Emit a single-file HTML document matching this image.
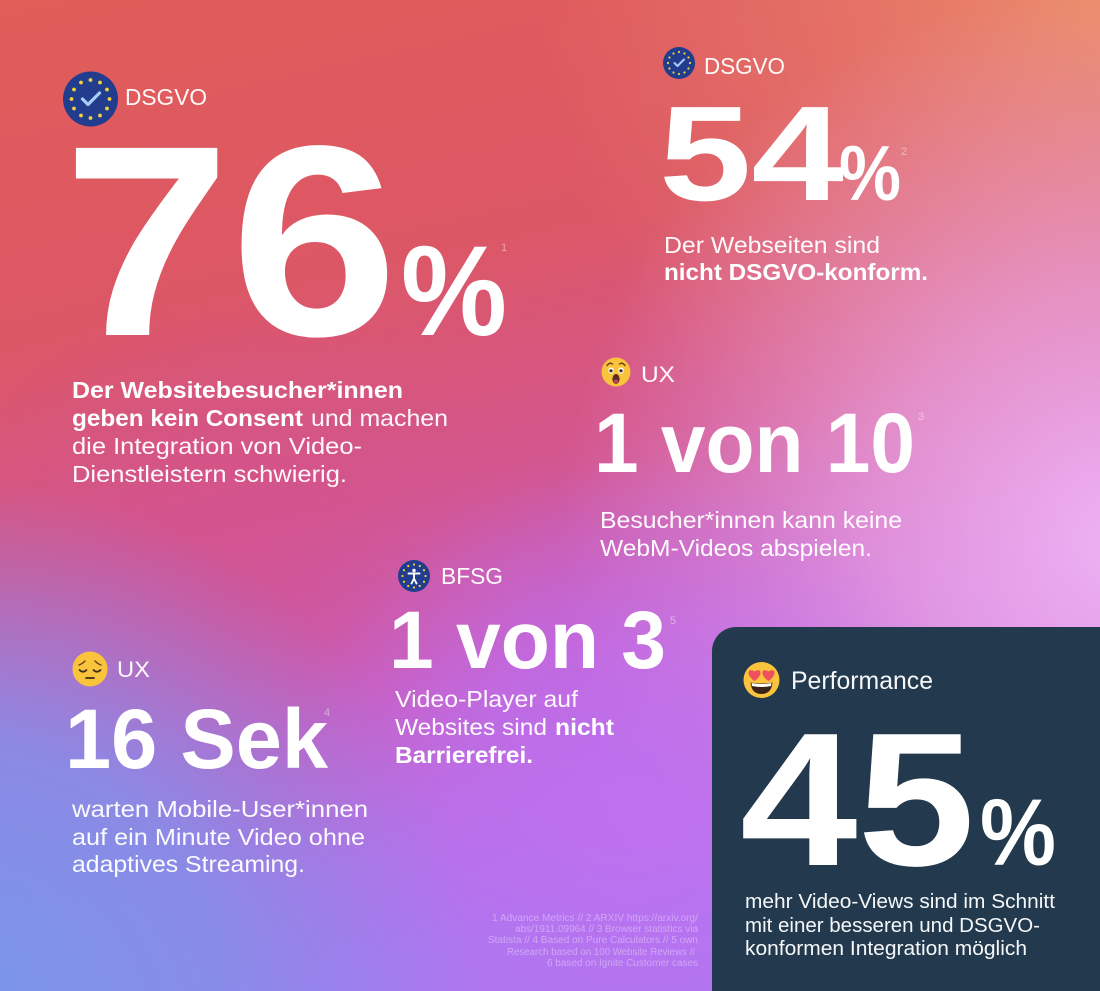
<!DOCTYPE html>
<html><head><meta charset="utf-8">
<style>
html,body{margin:0;padding:0;width:1100px;height:991px;overflow:hidden;background:#d45a8a}
svg{display:block}
text{font-family:"Liberation Sans",Arial,sans-serif;fill:#fff}
.b{font-weight:700}
.l{fill:#fff;fill-opacity:0.96}
.sup{font-size:11px;fill:#fff;fill-opacity:0.45}
.fn{font-size:10px;fill:#fff;fill-opacity:0.36}
</style></head><body>
<svg width="1100" height="991" viewBox="0 0 1100 991" xmlns="http://www.w3.org/2000/svg">
<defs>
 <linearGradient id="base" x1="0" y1="0" x2="0.25" y2="1">
  <stop offset="0" stop-color="#e15d58"/>
  <stop offset="0.33" stop-color="#dc5766"/>
  <stop offset="0.55" stop-color="#d3568e"/>
  <stop offset="0.75" stop-color="#c264d4"/>
  <stop offset="1" stop-color="#a878f0"/>
 </linearGradient>
 <radialGradient id="gOr" cx="1100" cy="0" r="560" gradientUnits="userSpaceOnUse">
  <stop offset="0" stop-color="#ec8e68" stop-opacity="1"/>
  <stop offset="0.5" stop-color="#e8806a" stop-opacity="0.55"/>
  <stop offset="1" stop-color="#e8806a" stop-opacity="0"/>
 </radialGradient>
 <radialGradient id="gLav" cx="1120" cy="540" r="560" gradientUnits="userSpaceOnUse">
  <stop offset="0" stop-color="#eeb2f4" stop-opacity="1"/>
  <stop offset="0.45" stop-color="#e9a2e2" stop-opacity="0.7"/>
  <stop offset="1" stop-color="#e49ad0" stop-opacity="0"/>
 </radialGradient>
 <radialGradient id="gBlue" cx="-40" cy="1000" r="520" gradientUnits="userSpaceOnUse">
  <stop offset="0" stop-color="#7896e8" stop-opacity="1"/>
  <stop offset="0.5" stop-color="#8290e8" stop-opacity="0.85"/>
  <stop offset="1" stop-color="#9088e8" stop-opacity="0"/>
 </radialGradient>
 <radialGradient id="gPur" cx="640" cy="820" r="360" gradientUnits="userSpaceOnUse">
  <stop offset="0" stop-color="#c070f0" stop-opacity="0.9"/>
  <stop offset="1" stop-color="#c070f0" stop-opacity="0"/>
 </radialGradient>
 <radialGradient id="gMag" cx="230" cy="590" r="300" gradientUnits="userSpaceOnUse">
  <stop offset="0" stop-color="#d25290" stop-opacity="0.7"/>
  <stop offset="1" stop-color="#d25290" stop-opacity="0"/>
 </radialGradient>
</defs>

<rect width="1100" height="991" fill="url(#base)"/>
<rect width="1100" height="991" fill="url(#gMag)"/>
<rect width="1100" height="991" fill="url(#gOr)"/>
<rect width="1100" height="991" fill="url(#gLav)"/>
<rect width="1100" height="991" fill="url(#gPur)"/>
<rect width="1100" height="991" fill="url(#gBlue)"/>

<!-- EU badge top-left -->
<g transform="translate(90.5,99)">
 <circle r="27.5" fill="#223d8e"/>
 <g fill="#f2d33c">
  <circle cx="0" cy="-19" r="1.9"/><circle cx="9.5" cy="-16.5" r="1.9"/><circle cx="16.5" cy="-9.5" r="1.9"/>
  <circle cx="19" cy="0" r="1.9"/><circle cx="16.5" cy="9.5" r="1.9"/><circle cx="9.5" cy="16.5" r="1.9"/>
  <circle cx="0" cy="19" r="1.9"/><circle cx="-9.5" cy="16.5" r="1.9"/><circle cx="-16.5" cy="9.5" r="1.9"/>
  <circle cx="-19" cy="0" r="1.9"/><circle cx="-16.5" cy="-9.5" r="1.9"/><circle cx="-9.5" cy="-16.5" r="1.9"/>
 </g>
 <path d="M-8,0 L-2.5,5.5 L9,-6" stroke="#a9ccf7" stroke-width="3.2" fill="none" stroke-linecap="round" stroke-linejoin="round"/>
</g>
<text x="125" y="105" font-size="23" textLength="82" lengthAdjust="spacingAndGlyphs" class="l">DSGVO</text>

<text class="b" x="63" y="335" font-size="272" textLength="335" lengthAdjust="spacingAndGlyphs">76</text>
<text class="b" x="401" y="335" font-size="128" textLength="106" lengthAdjust="spacingAndGlyphs">%</text>
<text class="sup" x="501" y="251">1</text>

<text class="b" x="72" y="398" font-size="23" textLength="331" lengthAdjust="spacingAndGlyphs">Der Websitebesucher*innen</text>
<text class="b" x="72" y="426" font-size="23" textLength="231" lengthAdjust="spacingAndGlyphs">geben kein Consent</text>
<text class="l" x="311" y="426" font-size="23" textLength="137" lengthAdjust="spacingAndGlyphs">und machen</text>
<text class="l" x="72" y="454" font-size="23" textLength="290" lengthAdjust="spacingAndGlyphs">die Integration von Video-</text>
<text class="l" x="72" y="482" font-size="23" textLength="275" lengthAdjust="spacingAndGlyphs">Dienstleistern schwierig.</text>

<!-- EU badge top-right -->
<g transform="translate(679,63)">
 <circle r="16" fill="#223d8e"/>
 <g fill="#f2d33c">
  <circle cx="0" cy="-11" r="1.1"/><circle cx="5.5" cy="-9.5" r="1.1"/><circle cx="9.5" cy="-5.5" r="1.1"/>
  <circle cx="11" cy="0" r="1.1"/><circle cx="9.5" cy="5.5" r="1.1"/><circle cx="5.5" cy="9.5" r="1.1"/>
  <circle cx="0" cy="11" r="1.1"/><circle cx="-5.5" cy="9.5" r="1.1"/><circle cx="-9.5" cy="5.5" r="1.1"/>
  <circle cx="-11" cy="0" r="1.1"/><circle cx="-9.5" cy="-5.5" r="1.1"/><circle cx="-5.5" cy="-9.5" r="1.1"/>
 </g>
 <path d="M-4.5,0 L-1.5,3 L5,-3.5" stroke="#a9ccf7" stroke-width="2" fill="none" stroke-linecap="round" stroke-linejoin="round"/>
</g>
<text x="704" y="74" font-size="23" textLength="81" lengthAdjust="spacingAndGlyphs" class="l">DSGVO</text>

<text class="b" x="659" y="200" font-size="135" textLength="185" lengthAdjust="spacingAndGlyphs">54</text>
<text class="b" x="839" y="200" font-size="78" textLength="62" lengthAdjust="spacingAndGlyphs">%</text>
<text class="sup" x="901" y="155">2</text>

<text class="l" x="664" y="253" font-size="23" textLength="216" lengthAdjust="spacingAndGlyphs">Der Webseiten sind</text>
<text class="b" x="664" y="280" font-size="23" textLength="264" lengthAdjust="spacingAndGlyphs">nicht DSGVO-konform.</text>

<!-- astonished emoji -->
<g transform="translate(616,372)">
 <circle r="14.5" fill="#f9c43c"/>
 <path d="M-9,-6.5 q2.5,-3.5 5.5,-1.5" stroke="#6b4316" stroke-width="1.4" fill="none" stroke-linecap="round"/>
 <path d="M3.5,-8 q3,-2 5.5,1.5" stroke="#6b4316" stroke-width="1.4" fill="none" stroke-linecap="round"/>
 <ellipse cx="-5" cy="-1.5" rx="2.6" ry="3.1" fill="#fff"/><circle cx="-5" cy="-1.2" r="1.6" fill="#3a2a1a"/>
 <ellipse cx="5" cy="-1.5" rx="2.6" ry="3.1" fill="#fff"/><circle cx="5" cy="-1.2" r="1.6" fill="#3a2a1a"/>
 <ellipse cx="0" cy="7" rx="3.6" ry="5" fill="#5b2a20"/>
 <ellipse cx="0" cy="9.5" rx="2.4" ry="2" fill="#c0405a"/>
</g>
<text x="641" y="382" font-size="22" textLength="34" lengthAdjust="spacingAndGlyphs" class="l">UX</text>

<text class="b" x="594" y="472" font-size="84" textLength="321" lengthAdjust="spacingAndGlyphs">1 von 10</text>
<text class="sup" x="918" y="420">3</text>

<text class="l" x="600" y="528" font-size="23" textLength="302" lengthAdjust="spacingAndGlyphs">Besucher*innen kann keine</text>
<text class="l" x="600" y="556" font-size="23" textLength="272" lengthAdjust="spacingAndGlyphs">WebM-Videos abspielen.</text>

<!-- BFSG badge -->
<g transform="translate(414,576)">
 <circle r="16" fill="#223d8e"/>
 <g fill="#f2d33c">
  <circle cx="0" cy="-11.5" r="1.1"/><circle cx="5.75" cy="-10" r="1.1"/><circle cx="10" cy="-5.75" r="1.1"/>
  <circle cx="11.5" cy="0" r="1.1"/><circle cx="10" cy="5.75" r="1.1"/><circle cx="5.75" cy="10" r="1.1"/>
  <circle cx="0" cy="11.5" r="1.1"/><circle cx="-5.75" cy="10" r="1.1"/><circle cx="-10" cy="5.75" r="1.1"/>
  <circle cx="-11.5" cy="0" r="1.1"/><circle cx="-10" cy="-5.75" r="1.1"/><circle cx="-5.75" cy="-10" r="1.1"/>
 </g>
 <circle cx="0" cy="-5.5" r="1.7" fill="#fff"/>
 <path d="M-5.5,-2.5 L5.5,-2.5 M0,-2.5 L0,2.5 M0,2.5 L-2.5,7.5 M0,2.5 L2.5,7.5" stroke="#fff" stroke-width="1.9" fill="none" stroke-linecap="round" stroke-linejoin="round"/>
</g>
<text x="441" y="584" font-size="23" textLength="62" lengthAdjust="spacingAndGlyphs" class="l">BFSG</text>

<text class="b" x="389" y="668" font-size="82" textLength="277" lengthAdjust="spacingAndGlyphs">1 von 3</text>
<text class="sup" x="670" y="624">5</text>

<text class="l" x="395" y="707" font-size="23" textLength="183" lengthAdjust="spacingAndGlyphs">Video-Player auf</text>
<text class="l" x="395" y="735" font-size="23" textLength="152" lengthAdjust="spacingAndGlyphs">Websites sind</text>
<text class="b" x="555" y="735" font-size="23" textLength="59" lengthAdjust="spacingAndGlyphs">nicht</text>
<text class="b" x="395" y="763" font-size="23" textLength="138" lengthAdjust="spacingAndGlyphs">Barrierefrei.</text>

<!-- pensive emoji -->
<g transform="translate(90,669)">
 <circle r="17.5" fill="#f9c43c"/>
 <path d="M-11,-4 q3,-1 6,-4" stroke="#6b4316" stroke-width="1.4" fill="none" stroke-linecap="round"/>
 <path d="M11,-4 q-3,-1 -6,-4" stroke="#6b4316" stroke-width="1.4" fill="none" stroke-linecap="round"/>
 <path d="M-10.5,1 q3.5,3.5 7,0" stroke="#3a2a1a" stroke-width="1.7" fill="none" stroke-linecap="round"/>
 <path d="M3.5,1 q3.5,3.5 7,0" stroke="#3a2a1a" stroke-width="1.7" fill="none" stroke-linecap="round"/>
 <path d="M-4,9 L4,9" stroke="#3a2a1a" stroke-width="1.8" stroke-linecap="round"/>
</g>
<text x="117" y="677" font-size="22" textLength="33" lengthAdjust="spacingAndGlyphs" class="l">UX</text>

<text class="b" x="65" y="768" font-size="84" textLength="263" lengthAdjust="spacingAndGlyphs">16 Sek</text>
<text class="sup" x="324" y="716">4</text>

<text class="l" x="72" y="817" font-size="23" textLength="296" lengthAdjust="spacingAndGlyphs">warten Mobile-User*innen</text>
<text class="l" x="72" y="845" font-size="23" textLength="293" lengthAdjust="spacingAndGlyphs">auf ein Minute Video ohne</text>
<text class="l" x="72" y="872" font-size="23" textLength="233" lengthAdjust="spacingAndGlyphs">adaptives Streaming.</text>

<!-- footnotes -->
<text class="fn" x="492" y="921" textLength="206" lengthAdjust="spacingAndGlyphs">1 Advance Metrics  // 2 ARXIV https://arxiv.org/</text>
<text class="fn" x="515" y="932" textLength="183" lengthAdjust="spacingAndGlyphs">abs/1911.09964 // 3 Browser statistics via</text>
<text class="fn" x="488" y="943" textLength="210" lengthAdjust="spacingAndGlyphs">Statista // 4 Based on Pure Calculators //  5 own</text>
<text class="fn" x="507" y="955" textLength="188" lengthAdjust="spacingAndGlyphs">Research based on 100 Website Reviews //</text>
<text class="fn" x="547" y="966" textLength="151" lengthAdjust="spacingAndGlyphs">6 based on Ignite Customer cases</text>

<!-- dark box -->
<rect x="712" y="627" width="420" height="400" rx="24" ry="24" fill="#233a4e"/>

<!-- heart eyes emoji -->
<g transform="translate(761.5,680)">
 <circle r="18" fill="#f9c43c"/>
 <path d="M0,2 C8,9 8,15 0,15 C-8,15 -8,9 0,2 Z" fill="none"/>
 <path d="M-11,2.5 Q0,4.5 11,2.5 Q10,14 0,14 Q-10,14 -11,2.5 Z" fill="#3a2218"/>
 <path d="M-10,3 Q0,5 10,3 L9.5,6 Q0,8 -9.5,6 Z" fill="#fff"/>
 <g fill="#ef5060">
  <path transform="translate(-7,-5)" d="M0,6 C-9,0 -7,-8 0,-3.5 C7,-8 9,0 0,6 Z"/>
  <path transform="translate(7,-5)" d="M0,6 C-9,0 -7,-8 0,-3.5 C7,-8 9,0 0,6 Z"/>
 </g>
</g>
<text x="791" y="689" font-size="25" textLength="142" lengthAdjust="spacingAndGlyphs" class="l">Performance</text>

<text class="b" x="740" y="865" font-size="190" textLength="235" lengthAdjust="spacingAndGlyphs">45</text>
<text class="b" x="980" y="865" font-size="95" textLength="76" lengthAdjust="spacingAndGlyphs">%</text>

<text class="l" x="745" y="908" font-size="20" textLength="310" lengthAdjust="spacingAndGlyphs">mehr Video-Views sind im Schnitt</text>
<text class="l" x="745" y="932" font-size="20" textLength="295" lengthAdjust="spacingAndGlyphs">mit einer besseren und DSGVO-</text>
<text class="l" x="745" y="955" font-size="20" textLength="282" lengthAdjust="spacingAndGlyphs">konformen Integration möglich</text>
</svg>
</body></html>
